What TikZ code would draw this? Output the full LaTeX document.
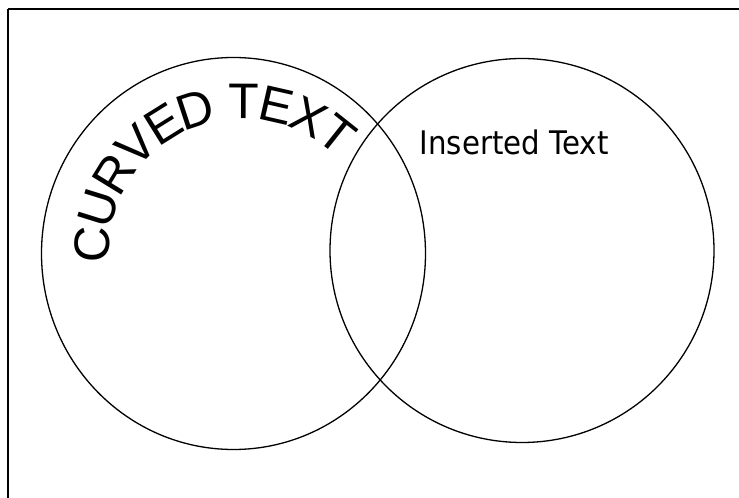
\documentclass[tikz,border=0pt]{standalone}
\usepackage{fontspec}
\usetikzlibrary{decorations.text}
\newfontfamily\curvefont{Liberation Sans}
\newfontfamily\insfont[FakeStretch=0.9]{DejaVu Sans}
\begin{document}
\begin{tikzpicture}[x=1pt,y=1pt,
  ring/.style={draw=black,line width=1.3pt},
  frame/.style={draw=black,line width=2pt}]
\useasboundingbox (0,0) rectangle (739,498);
\draw[frame] (8,489) -- (8,-20) (8,489) -- (760,489);
\draw[ring] (233.5,244.5) ellipse[x radius=192, y radius=196];
\draw[ring] (522,247.5) circle[radius=192];
\path[decorate, decoration={text along path, text align=left, raise=-12pt,
  text={|\curvefont\fontsize{50pt}{50pt}\selectfont|CURVED TEXT}}]
  (243,245) ++(184:146) arc[start angle=184, end angle=10, radius=146];
\node[anchor=base west, inner sep=0pt, font=\insfont\fontsize{32.5pt}{32.5pt}\selectfont] (ins) at (419.5,343) {Inserted Text};
\end{tikzpicture}
\end{document}
